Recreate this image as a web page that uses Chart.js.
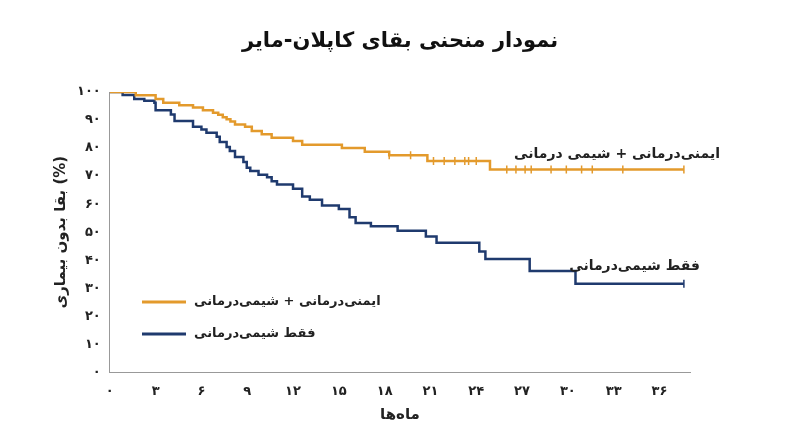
<!DOCTYPE html>
<html><head><meta charset="utf-8">
<script src="https://cdn.jsdelivr.net/npm/chart.js@4/dist/chart.umd.min.js"></script>
<style>html,body{margin:0;background:#fff}#w{width:800px;height:447px}</style>
</head><body><div id="w"><canvas id="c"></canvas></div>
<script>
const chartTitle = "نمودار منحنی بقای کاپلان-مایر";
const seriesNames = ["ایمنی‌درمانی + شیمی درمانی", "فقط شیمی‌درمانی"];
const legendNames = ["ایمنی‌درمانی + شیمی‌درمانی", "فقط شیمی‌درمانی"];
const comboTimes = [0,1.7,3.0,3.5,4.55,5.45,6.1,6.76,7.1,7.4,7.65,7.9,8.2,8.86,9.3,9.95,10.6,12.0,12.6,15.2,16.7,18.3,20.8,24.9,37.6];
const comboSurv  = [100,98.8,97.5,96.2,95.3,94.5,93.5,92.6,91.9,91.0,90.3,89.5,88.4,87.6,86.1,84.9,83.7,82.5,81.2,80.0,78.7,77.4,75.4,72.4,72.4];
const comboCensor = [18.3,19.7,21.2,21.9,22.6,23.25,23.5,24.0,26.0,26.6,27.2,27.6,28.9,29.9,30.9,31.6,33.6,37.6];
const chemoTimes = [0,0.84,1.6,2.26,2.92,3.0,4.0,4.24,5.45,6.0,6.33,7.0,7.2,7.65,7.86,8.2,8.75,8.97,9.2,9.74,10.3,10.6,10.95,12.0,12.6,13.1,13.9,15.0,15.7,16.1,17.1,18.85,20.7,21.4,24.2,24.6,27.5,30.5,37.6];
const chemoSurv  = [100,98.9,97.5,96.9,96.2,93.5,92.0,89.7,87.6,86.6,85.5,84.0,82.2,80.4,79.0,76.8,75.0,73.0,71.8,70.5,69.6,68.2,67.0,65.5,62.7,61.6,59.5,58.3,55.3,53.3,52.1,50.5,48.5,46.2,43.1,40.4,36.2,31.6,31.6];
const chemoCensor = [37.6];
const xTicks = [0,3,6,9,12,15,18,21,24,27,30,33,36];
const yTicks = [0,10,20,30,40,50,60,70,80,90,100];
const colors = ["#E39A2C", "#1F3A6E"];

const fa = n => String(n).replace(/\d/g, d => "۰۱۲۳۴۵۶۷۸۹"[d]);
const pts = (t, s) => t.map((x, i) => ({x, y: s[i]}));
const survAt = (t, s, x) => { let v = s[0]; for (let i = 0; i < t.length; i++) if (t[i] <= x) v = s[i]; return v; };
const cens = (c, t, s) => c.map(x => ({x, y: survAt(t, s, x)}));
const F = "'DejaVu Sans', sans-serif";

const labelsPlugin = {
  id: 'lbl',
  afterDraw(ch) {
    const ctx = ch.ctx;
    ctx.save();
    ctx.textBaseline = 'middle';
    ctx.font = "bold 21px " + F; ctx.fillStyle = "#111"; ctx.textAlign = 'center';
    ctx.fillText(chartTitle, 400, 42);
    ctx.font = "bold 14px " + F; ctx.fillStyle = "#222"; ctx.textAlign = 'right';
    ctx.fillText(seriesNames[0], 720, 154);
    ctx.fillText(seriesNames[1], 700, 266);
    const ly = [302, 334];
    ctx.lineWidth = 3;
    for (let i = 0; i < 2; i++) {
      ctx.strokeStyle = colors[i];
      ctx.beginPath(); ctx.moveTo(142, ly[i]); ctx.lineTo(186, ly[i]); ctx.stroke();
      ctx.fillStyle = "#222"; ctx.font = "bold 13px " + F;
      ctx.direction = 'rtl'; ctx.textAlign = 'right';
      const w = ctx.measureText(legendNames[i]).width;
      ctx.fillText(legendNames[i], 194 + w, ly[i]);
      ctx.direction = 'ltr';
    }
    ctx.restore();
  }
};

new Chart(document.getElementById('c'), {
  type: 'line',
  data: { datasets: [
    { label: seriesNames[0], data: pts(comboTimes, comboSurv), borderColor: colors[0], borderWidth: 2.5, stepped: 'before', pointRadius: 0, fill: false },
    { label: seriesNames[1], data: pts(chemoTimes, chemoSurv), borderColor: colors[1], borderWidth: 2.5, stepped: 'before', pointRadius: 0, fill: false },
    { type: 'scatter', data: cens(comboCensor, comboTimes, comboSurv), pointStyle: 'line', rotation: 90, radius: 4, borderColor: colors[0], borderWidth: 1.5 },
    { type: 'scatter', data: cens(chemoCensor, chemoTimes, chemoSurv), pointStyle: 'line', rotation: 90, radius: 4, borderColor: colors[1], borderWidth: 1.5 }
  ]},
  options: {
    responsive: true, maintainAspectRatio: false, animation: false,
    layout: { padding: { left: 48, right: 110, top: 92, bottom: 19 } },
    plugins: { legend: { display: false }, tooltip: { enabled: false } },
    scales: {
      x: { type: 'linear', min: 0, max: 38, afterBuildTicks: a => { a.ticks = xTicks.map(v => ({value: v})); },
        grid: { display: false, drawTicks: true }, border: { color: '#999' },
        ticks: { callback: v => fa(v), font: { family: F, size: 13, weight: 'bold' }, color: '#222', maxRotation: 0 },
        title: { display: true, text: "ماه‌ها", font: { family: F, size: 15, weight: 'bold' }, color: '#222' } },
      y: { min: 0, max: 100, afterBuildTicks: a => { a.ticks = yTicks.map(v => ({value: v})); },
        grid: { display: false, drawTicks: true, tickLength: 6, tickColor: '#999' }, border: { color: '#999' },
        ticks: { callback: v => fa(v), font: { family: F, size: 13, weight: 'bold' }, color: '#222' },
        title: { display: true, text: "بقا بدون بیماری (%)", font: { family: F, size: 15, weight: 'bold' }, color: '#222' } }
    }
  },
  plugins: [labelsPlugin]
});
</script></body></html>
